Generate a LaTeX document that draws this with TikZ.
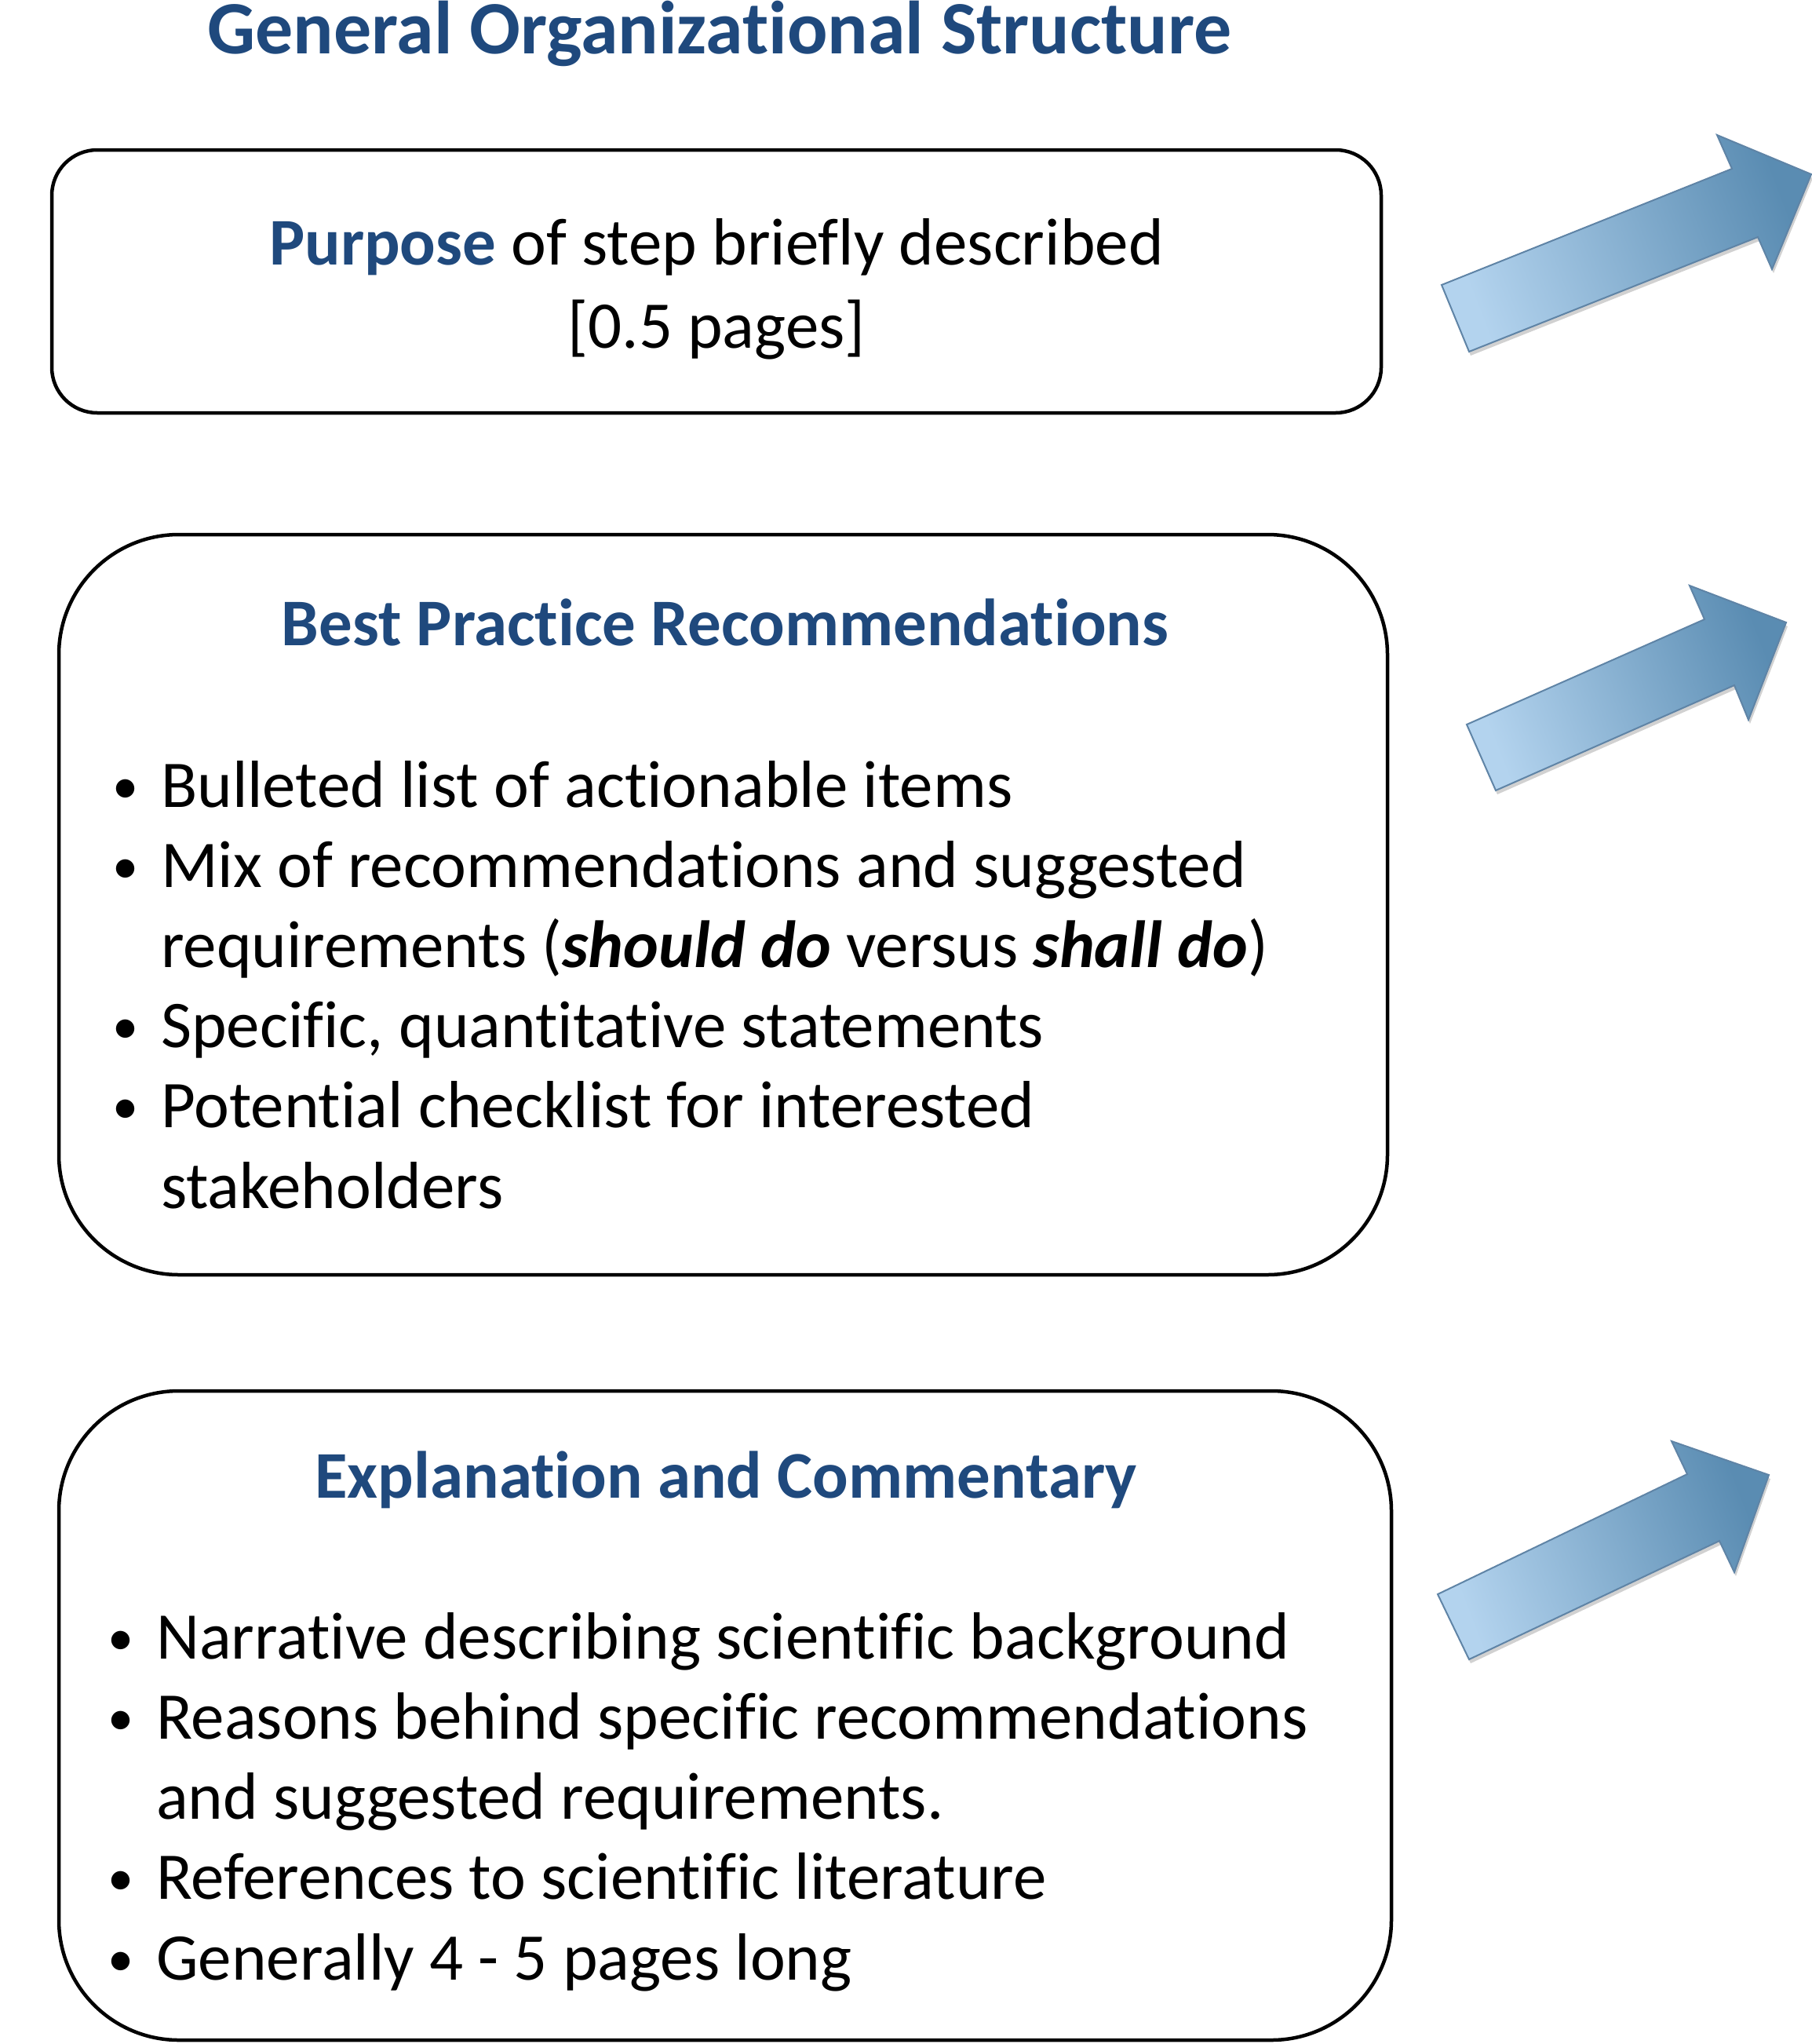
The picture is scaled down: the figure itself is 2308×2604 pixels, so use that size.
\documentclass[tikz,border=0pt]{standalone}
\usepackage{graphicx}
\usepackage{fontspec}
\setmainfont{Carlito}[Ligatures=NoCommon]
\usetikzlibrary{shadows}

\definecolor{headblue}{HTML}{1F497D}
\definecolor{arrowlight}{HTML}{B3D3EE}
\definecolor{arrowdark}{HTML}{5A8CB2}
\definecolor{arrowedge}{HTML}{5F84A6}

% bullet hung to the left of an item's first line
\newcommand\bulletmark{\llap{\raisebox{5pt}{\scalebox{0.78}{\textbullet}}\hspace{29pt}}}

\begin{document}
\begin{tikzpicture}[x=1pt, y=-1pt,
  panel/.style={draw=black, line width=4.5pt, fill=white, inner sep=0pt},
  heading/.style={font=\fontsize{85}{102}\selectfont\bfseries, text=headblue, anchor=base, inner sep=0pt},
  body/.style={font=\fontsize{85}{102.2}\selectfont, anchor=base west, align=left, inner sep=0pt},
  slant/.style={draw=arrowedge, line width=2pt, line join=miter,
    top color=arrowlight, bottom color=arrowdark, shading angle=111,
    drop shadow={shadow xshift=2pt, shadow yshift=-5pt, opacity=0.18, fill=black}}
]
\useasboundingbox (0,0) rectangle (2308,2604);

% title
\node[heading, font=\fontsize{96}{115}\selectfont\bfseries] (title) at (917,69) {General Organizational Structure};

% three panels
\node[panel, rounded corners=58pt, minimum width=1694pt, minimum height=335pt] (purpose) at (913,358.5) {};
\node[panel, rounded corners=153pt, minimum width=1693pt, minimum height=943pt] (practice) at (921.5,1152.5) {};
\node[panel, rounded corners=153pt, minimum width=1698pt, minimum height=827pt] (explain) at (924,2185.5) {};

% panel texts (a multi-line node sits on the baseline of its last line)
\node[body, anchor=base, align=center, font=\fontsize{85}{106}\selectfont] (purposetext) at (913,443)
  {\textcolor{headblue}{\bfseries Purpose} of step briefly described\\ {[}0.5 pages{]}};

\node[heading] (practicehead) at (924,822) {Best Practice Recommendations};
\node[body] (practicelist) at (205,1539) {%
  \bulletmark Bulleted list of actionable items\\
  \bulletmark Mix of recommendations and suggested\\
  requirements (\textbf{\textit{should do}} versus \textbf{\textit{shall do}})\\
  \bulletmark Specific, quantitative statements\\
  \bulletmark Potential checklist for interested\\
  stakeholders};

\node[heading] (explainhead) at (925,1908) {Explanation and Commentary};
\node[body] (explainlist) at (199,2522) {%
  \bulletmark Narrative describing scientific background\\
  \bulletmark Reasons behind specific recommendations\\
  and suggested requirements.\\
  \bulletmark References to scientific literature\\
  \bulletmark Generally 4 - 5 pages long};

% block arrows beside the panels
\path[slant] (1837,363) -- (2207,215) -- (2188,172) -- (2308,222) -- (2258,343) -- (2240,302) -- (1872,448) -- cycle;
\path[slant] (1869,923) -- (2172,789) -- (2153,746) -- (2276,793) -- (2228,917) -- (2210,873) -- (1906,1007) -- cycle;
\path[slant] (1832,2031) -- (2150,1878) -- (2130,1836) -- (2254,1879) -- (2210,2003) -- (2191,1963) -- (1872,2114) -- cycle;
\end{tikzpicture}
\end{document}
